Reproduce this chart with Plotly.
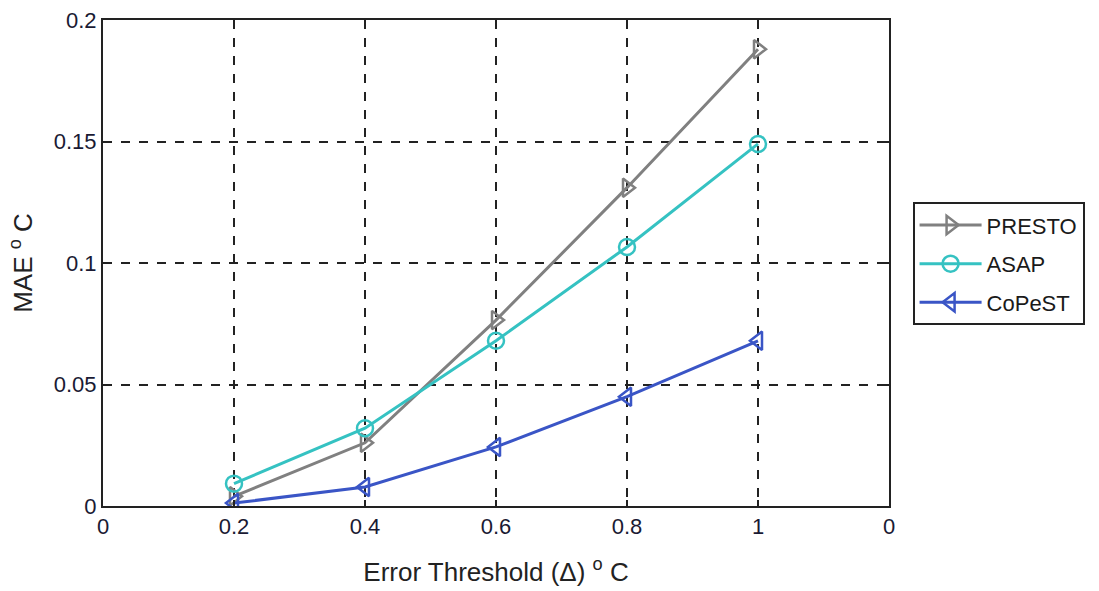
import plotly.graph_objects as go

x_vals = [0.2, 0.4, 0.6, 0.8, 1.0]
presto = [0.004, 0.026, 0.0765, 0.131, 0.188]
asap = [0.0092, 0.032, 0.068, 0.1066, 0.149]
copest = [0.0012, 0.0078, 0.0243, 0.045, 0.068]

x_tickvals = [0, 0.2, 0.4, 0.6, 0.8, 1.0, 1.2]
x_ticktext = ["0", "0.2", "0.4", "0.6", "0.8", "1", "0"]
y_tickvals = [0, 0.05, 0.1, 0.15, 0.2]
y_ticktext = ["0", "0.05", "0.1", "0.15", "0.2"]

FONT = "Liberation Sans, Arial, sans-serif"

fig = go.Figure()
series = [
    ("PRESTO", presto, "#808080", "triangle-right-open"),
    ("ASAP", asap, "#35C2C2", "circle-open"),
    ("CoPeST", copest, "#3A55C6", "triangle-left-open"),
]
for name, ys, color, sym in series:
    fig.add_trace(go.Scatter(
        x=x_vals, y=ys, name=name, mode="lines+markers", legendgroup=name,
        line=dict(color=color, width=3),
        marker=dict(symbol=sym, size=16, color=color, line=dict(width=2.5, color=color)),
    ))

axis_common = dict(
    showline=True, linecolor="#222", linewidth=2, mirror="ticks",
    ticks="inside", ticklen=6, tickcolor="#222", tickwidth=1.5,
    showgrid=True, gridcolor="#222", gridwidth=1.5, griddash="dash",
    zeroline=False, automargin=False,
    tickfont=dict(family=FONT, size=22, color="#1a1a33"),
)

fig.update_xaxes(
    range=[0, 1.2], tickvals=x_tickvals, ticktext=x_ticktext,
    title=dict(text="Error Threshold (Δ) <sup>o</sup> C", font=dict(family=FONT, size=26, color="#222"), standoff=24),
    **axis_common,
)
fig.update_yaxes(
    range=[0, 0.2], tickvals=y_tickvals, ticktext=y_ticktext,
    title=dict(text="MAE <sup>o</sup> C", font=dict(family=FONT, size=26, color="#222"), standoff=14),
    **axis_common,
)

fig.update_layout(
    width=1099, height=591,
    margin=dict(l=103, r=210, t=20, b=85),
    plot_bgcolor="white", paper_bgcolor="white",
    legend=dict(
        x=1.03, y=0.625, xanchor="left", yanchor="top",
        bordercolor="#222", borderwidth=2, bgcolor="white",
        font=dict(family=FONT, size=22, color="#1a1a1a"),
        itemwidth=62, tracegroupgap=7,
    ),
    showlegend=True,
)

fig.write_html("out.html")
